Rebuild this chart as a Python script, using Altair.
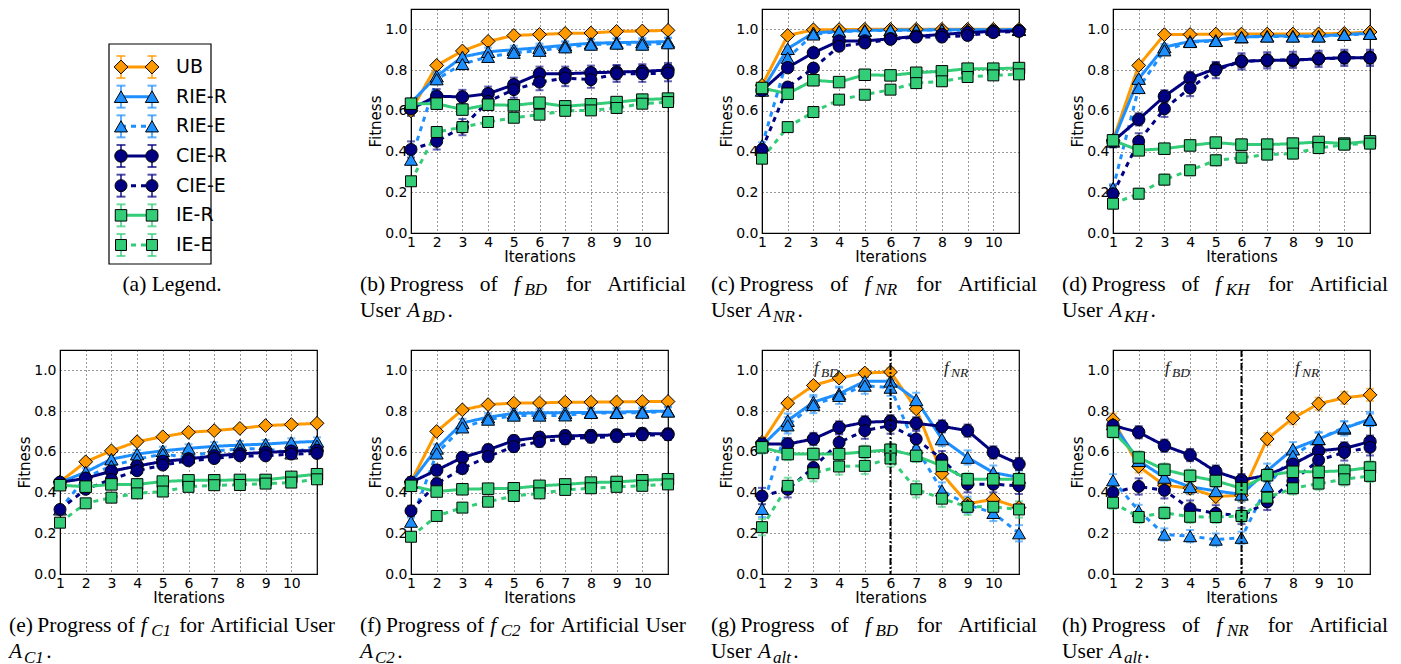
import altair as alt
import pandas as pd

# ---------------- data ----------------
SERIES = ["UB", "RIE-R", "RIE-E", "CIE-R", "CIE-E", "IE-R", "IE-E"]
ITERATIONS = [1, 2, 3, 4, 5, 6, 7, 8, 9, 10, 11]
X_TICKS = [1, 2, 3, 4, 5, 6, 7, 8, 9, 10]
Y_TICKS = [0.0, 0.2, 0.4, 0.6, 0.8, 1.0]
COLORS = ["#ff9900", "#1e8fff", "#1e8fff", "#000080", "#000080", "#33cc77", "#33cc77"]
SHAPES = ["diamond", "triangle-up", "triangle-up", "circle", "circle", "square", "square"]
DASHES = [[1, 0], [1, 0], [7, 4], [1, 0], [7, 4], [1, 0], [7, 4]]
SIZES = [100, 72, 72, 68, 68, 55, 55]
LEG_SIZES = [190, 120, 120, 120, 120, 90, 90]

# (b) f_BD, A_BD
B_VALUES = {
    "UB":    [0.600, 0.823, 0.894, 0.941, 0.970, 0.975, 0.980, 0.982, 0.990, 0.992, 0.995],
    "RIE-R": [0.640, 0.770, 0.865, 0.890, 0.900, 0.910, 0.922, 0.932, 0.935, 0.937, 0.940],
    "RIE-E": [0.360, 0.755, 0.830, 0.865, 0.885, 0.895, 0.912, 0.925, 0.930, 0.925, 0.932],
    "CIE-R": [0.610, 0.672, 0.668, 0.684, 0.728, 0.782, 0.782, 0.787, 0.790, 0.794, 0.800],
    "CIE-E": [0.410, 0.450, 0.520, 0.646, 0.704, 0.741, 0.761, 0.753, 0.782, 0.782, 0.785],
    "IE-R":  [0.635, 0.635, 0.606, 0.630, 0.627, 0.640, 0.622, 0.632, 0.643, 0.655, 0.660],
    "IE-E":  [0.254, 0.496, 0.520, 0.545, 0.566, 0.581, 0.600, 0.602, 0.614, 0.635, 0.643],
}
B_ERR = {"UB": 0.01, "RIE-R": 0.02, "RIE-E": 0.025, "CIE-R": 0.035, "CIE-E": 0.04, "IE-R": 0.02, "IE-E": 0.02}

# (c) f_NR, A_NR
C_VALUES = {
    "UB":    [0.725, 0.970, 0.998, 0.999, 1.000, 1.000, 1.000, 1.000, 1.000, 1.000, 1.000],
    "RIE-R": [0.700, 0.905, 0.983, 0.990, 0.995, 0.997, 0.997, 0.998, 0.998, 0.998, 0.998],
    "RIE-E": [0.430, 0.860, 0.975, 0.990, 0.993, 0.996, 0.996, 0.997, 0.997, 0.997, 0.998],
    "CIE-R": [0.700, 0.812, 0.885, 0.943, 0.943, 0.954, 0.966, 0.975, 0.984, 0.990, 0.993],
    "CIE-E": [0.410, 0.717, 0.810, 0.917, 0.933, 0.951, 0.962, 0.962, 0.970, 0.984, 0.990],
    "IE-R":  [0.712, 0.684, 0.750, 0.741, 0.777, 0.774, 0.787, 0.794, 0.807, 0.807, 0.810],
    "IE-E":  [0.365, 0.520, 0.594, 0.655, 0.679, 0.704, 0.736, 0.745, 0.766, 0.774, 0.779],
}
C_ERR = {"UB": 0.005, "RIE-R": 0.01, "RIE-E": 0.015, "CIE-R": 0.015, "CIE-E": 0.02, "IE-R": 0.02, "IE-E": 0.02}

# (d) f_KH, A_KH
D_VALUES = {
    "UB":    [0.455, 0.823, 0.974, 0.975, 0.977, 0.977, 0.977, 0.977, 0.978, 0.980, 0.987],
    "RIE-R": [0.450, 0.758, 0.913, 0.941, 0.946, 0.962, 0.967, 0.967, 0.967, 0.975, 0.980],
    "RIE-E": [0.220, 0.712, 0.897, 0.938, 0.943, 0.962, 0.965, 0.965, 0.965, 0.973, 0.978],
    "CIE-R": [0.450, 0.558, 0.671, 0.761, 0.807, 0.843, 0.848, 0.848, 0.856, 0.861, 0.861],
    "CIE-E": [0.193, 0.450, 0.610, 0.712, 0.800, 0.843, 0.848, 0.850, 0.855, 0.860, 0.860],
    "IE-R":  [0.455, 0.406, 0.414, 0.430, 0.444, 0.434, 0.434, 0.439, 0.447, 0.439, 0.450],
    "IE-E":  [0.144, 0.193, 0.262, 0.308, 0.357, 0.370, 0.385, 0.390, 0.417, 0.434, 0.439],
}
D_ERR = {"UB": 0.01, "RIE-R": 0.015, "RIE-E": 0.02, "CIE-R": 0.03, "CIE-E": 0.04, "IE-R": 0.025, "IE-E": 0.025}

# (e) f_C1, A_C1
E_VALUES = {
    "UB":    [0.452, 0.551, 0.605, 0.650, 0.674, 0.696, 0.704, 0.715, 0.729, 0.734, 0.740],
    "RIE-R": [0.450, 0.500, 0.564, 0.589, 0.605, 0.617, 0.627, 0.633, 0.638, 0.646, 0.651],
    "RIE-E": [0.317, 0.474, 0.531, 0.564, 0.589, 0.572, 0.605, 0.613, 0.617, 0.592, 0.630],
    "CIE-R": [0.450, 0.470, 0.505, 0.530, 0.553, 0.565, 0.580, 0.590, 0.597, 0.603, 0.607],
    "CIE-E": [0.317, 0.416, 0.465, 0.507, 0.535, 0.556, 0.567, 0.580, 0.580, 0.589, 0.592],
    "IE-R":  [0.436, 0.429, 0.440, 0.440, 0.454, 0.460, 0.460, 0.462, 0.462, 0.477, 0.490],
    "IE-E":  [0.252, 0.347, 0.375, 0.396, 0.405, 0.428, 0.436, 0.437, 0.444, 0.449, 0.465],
}
E_ERR = {"UB": 0.01, "RIE-R": 0.02, "RIE-E": 0.02, "CIE-R": 0.015, "CIE-E": 0.015, "IE-R": 0.02, "IE-E": 0.015}

# (f) f_C2, A_C2
F_VALUES = {
    "UB":    [0.452, 0.700, 0.806, 0.832, 0.839, 0.840, 0.844, 0.844, 0.845, 0.847, 0.847],
    "RIE-R": [0.450, 0.617, 0.742, 0.770, 0.789, 0.791, 0.792, 0.794, 0.795, 0.798, 0.800],
    "RIE-E": [0.257, 0.592, 0.720, 0.758, 0.778, 0.778, 0.779, 0.791, 0.791, 0.792, 0.798],
    "CIE-R": [0.450, 0.510, 0.572, 0.610, 0.655, 0.671, 0.679, 0.680, 0.683, 0.690, 0.688],
    "CIE-E": [0.310, 0.444, 0.518, 0.577, 0.625, 0.650, 0.663, 0.671, 0.674, 0.683, 0.683],
    "IE-R":  [0.433, 0.405, 0.416, 0.419, 0.421, 0.433, 0.440, 0.449, 0.452, 0.460, 0.465],
    "IE-E":  [0.183, 0.285, 0.326, 0.355, 0.383, 0.396, 0.413, 0.421, 0.428, 0.433, 0.440],
}
F_ERR = {"UB": 0.01, "RIE-R": 0.02, "RIE-E": 0.02, "CIE-R": 0.025, "CIE-E": 0.025, "IE-R": 0.02, "IE-E": 0.015}

# (g) f_BD, A_alt
G_VALUES = {
    "UB":    [0.646, 0.839, 0.926, 0.962, 0.987, 0.992, 0.811, 0.493, 0.345, 0.367, 0.326],
    "RIE-R": [0.630, 0.753, 0.844, 0.885, 0.946, 0.946, 0.855, 0.663, 0.572, 0.498, 0.474],
    "RIE-E": [0.320, 0.730, 0.830, 0.875, 0.925, 0.915, 0.620, 0.410, 0.340, 0.300, 0.200],
    "CIE-R": [0.638, 0.638, 0.663, 0.720, 0.745, 0.750, 0.740, 0.725, 0.704, 0.597, 0.540],
    "CIE-E": [0.383, 0.416, 0.523, 0.646, 0.704, 0.729, 0.663, 0.564, 0.441, 0.441, 0.433],
    "IE-R":  [0.622, 0.589, 0.589, 0.589, 0.600, 0.610, 0.580, 0.531, 0.465, 0.465, 0.465],
    "IE-E":  [0.230, 0.433, 0.495, 0.528, 0.531, 0.567, 0.416, 0.370, 0.330, 0.330, 0.317],
}
G_ERR = {"UB": 0.02, "RIE-R": 0.035, "RIE-E": 0.04, "CIE-R": 0.03, "CIE-E": 0.04, "IE-R": 0.03, "IE-E": 0.04}

# (h) f_NR, A_alt
H_VALUES = {
    "UB":    [0.758, 0.528, 0.436, 0.421, 0.380, 0.387, 0.663, 0.765, 0.836, 0.865, 0.880],
    "RIE-R": [0.737, 0.556, 0.474, 0.428, 0.408, 0.391, 0.507, 0.613, 0.663, 0.715, 0.761],
    "RIE-E": [0.460, 0.310, 0.194, 0.186, 0.169, 0.178, 0.433, 0.580, 0.663, 0.720, 0.757],
    "CIE-R": [0.729, 0.696, 0.630, 0.584, 0.503, 0.461, 0.485, 0.539, 0.605, 0.617, 0.650],
    "CIE-E": [0.400, 0.430, 0.411, 0.321, 0.298, 0.285, 0.354, 0.457, 0.559, 0.597, 0.622],
    "IE-R":  [0.699, 0.572, 0.512, 0.482, 0.457, 0.421, 0.485, 0.502, 0.502, 0.507, 0.523],
    "IE-E":  [0.350, 0.280, 0.300, 0.281, 0.280, 0.285, 0.375, 0.421, 0.444, 0.465, 0.482],
}
H_ERR = {"UB": 0.03, "RIE-R": 0.035, "RIE-E": 0.03, "CIE-R": 0.03, "CIE-E": 0.04, "IE-R": 0.03, "IE-E": 0.03}

# captions: (label, fitness subscript, user subscript, "User" on first line)
CAPTIONS = {
    "b": ("b", "BD", "BD", False),
    "c": ("c", "NR", "NR", False),
    "d": ("d", "KH", "KH", False),
    "e": ("e", "C1", "C1", True),
    "f": ("f", "C2", "C2", True),
    "g": ("g", "BD", "alt", False),
    "h": ("h", "NR", "alt", False),
}
ANNOT_TEXT = [("BD", 3.02), ("NR", 8.08)]
SWITCH_AT = 6

# ---------------- layout ----------------
PANEL_W = 257
PANEL_H = 224
COL_GAP = 94
ROW_GAP = 117

CAP_FONT = 21.5
CAP_SUB_FONT = 17
CAP_LEFT = -51
CAP_WIDTH = 326
CAP_LINE1 = PANEL_H + 57.5
CAP_LINE2 = PANEL_H + 84
SUB_DROP = 4.5

TIMES_W = {" ": 250, "(": 333, ")": 333, ".": 250, "A": 722, "L": 611, "P": 556, "U": 722,
           "a": 444, "b": 500, "c": 444, "d": 500, "e": 444, "f": 333, "g": 500, "h": 500,
           "i": 278, "l": 278, "n": 500, "o": 500, "r": 333, "s": 389, "t": 278, "u": 500}
TIMES_IT_W = {"A": 611, "B": 611, "C": 667, "D": 722, "H": 722, "K": 667, "N": 667, "R": 611,
              "a": 500, "l": 278, "t": 278, "f": 278, "1": 500, "2": 500}
IT_ADV = {"f": 10.5, "A": 15.0}
SUB_SPACING = 1.12


def part_width(text, kind):
    if kind == "rm":
        return sum(TIMES_W[c] for c in text) * CAP_FONT / 1000.0
    if kind == "it":
        return sum(IT_ADV[c] for c in text)
    return sum(TIMES_IT_W[c] for c in text) * CAP_SUB_FONT / 1000.0 * SUB_SPACING


def caption_tokens(spec):
    label, fsub, asub, user_first = spec
    l1 = [[("(%s)" % label, "rm")], [("Progress", "rm")], [("of", "rm")],
          [("f", "it"), (fsub, "sub")], [("for", "rm")], [("Artificial", "rm")]]
    ending = [("A", "it"), (asub, "sub"), (".", "rm")]
    if user_first:
        l1.append([("User", "rm")])
        l2 = [ending]
    else:
        l2 = [[("User", "rm")], ending]
    toks = []
    for li, words in enumerate([l1, l2]):
        y = CAP_LINE1 if li == 0 else CAP_LINE2
        widths = [sum(part_width(t, k) for t, k in w) for w in words]
        if li == 0:
            g = (CAP_WIDTH - sum(widths) - 4.5) / (len(words) - 2)
            gaps = [4.5] + [g] * (len(words) - 2)
        else:
            gaps = [6.5] * (len(words) - 1)
        x = CAP_LEFT
        for wi, w in enumerate(words):
            for t, k in w:
                toks.append({"px": x, "py": y + (SUB_DROP if k == "sub" else 0), "t": t, "k": k})
                x += part_width(t, k)
            if wi < len(gaps):
                x += gaps[wi]
    return pd.DataFrame(toks)


def caption_layers(df):
    styles = {"rm": (CAP_FONT, "normal"), "it": (CAP_FONT, "italic"), "sub": (CAP_SUB_FONT, "italic")}
    layers = []
    for k, (size, style) in styles.items():
        part = df[df["k"] == k]
        if part.empty:
            continue
        layers.append(
            alt.Chart(part).mark_text(align="left", baseline="alphabetic", font="Liberation Serif",
                                      fontSize=size, fontStyle=style, color="black")
            .encode(x=alt.X("px:Q", scale=None), y=alt.Y("py:Q", scale=None), text="t:N")
        )
    return layers


XS = alt.Scale(domain=[1, 11], nice=False, zero=False)
YS = alt.Scale(domain=[0, 1.1], nice=False)
XAX = alt.Axis(values=X_TICKS, format="d", title="Iterations", labelFlush=False,
               labelPadding=2, titlePadding=0)
YAX = alt.Axis(values=Y_TICKS, format=".1f", title="Fitness", labelFlush=False,
               labelPadding=4, titlePadding=1)
CS = alt.Scale(domain=SERIES, range=COLORS)


def long_df(vals, errs):
    rows = []
    for s in SERIES:
        for it, v in zip(ITERATIONS, vals[s]):
            rows.append({"it": it, "v": v, "s": s, "lo": v - errs[s], "hi": v + errs[s]})
    return pd.DataFrame(rows)


def data_panel(vals, errs, cap_key, annotate=False):
    df = long_df(vals, errs)
    base = alt.Chart(df)
    X = alt.X("it:Q", scale=XS, axis=XAX)
    color = alt.Color("s:N", scale=CS, legend=None)
    lines = base.mark_line(strokeWidth=3).encode(
        x=X, y=alt.Y("v:Q", scale=YS, axis=YAX), color=color,
        strokeDash=alt.StrokeDash("s:N", scale=alt.Scale(domain=SERIES, range=DASHES), legend=None),
    )
    bars = base.mark_rule(strokeWidth=2, opacity=0.6).encode(
        x=X, y=alt.Y("lo:Q", scale=YS, axis=YAX), y2="hi:Q", color=color)
    caps = base.transform_fold(["lo", "hi"], as_=["kk", "cv"]).mark_tick(
        orient="horizontal", size=8, thickness=2, opacity=0.6).encode(
        x=X, y=alt.Y("cv:Q", scale=YS, axis=YAX), color=color)
    pts = base.mark_point(filled=True, stroke="black", strokeWidth=1, opacity=1).encode(
        x=X, y=alt.Y("v:Q", scale=YS, axis=YAX),
        fill=alt.Fill("s:N", scale=CS, legend=None),
        shape=alt.Shape("s:N", scale=alt.Scale(domain=SERIES, range=SHAPES), legend=None),
        size=alt.Size("s:N", scale=alt.Scale(domain=SERIES, range=SIZES), legend=None),
    )
    layers = [lines, bars, caps, pts]
    if annotate:
        layers.append(
            alt.Chart(pd.DataFrame({"it": [SWITCH_AT]})).mark_rule(
                color="black", strokeWidth=2, strokeDash=[7, 2, 2, 2]).encode(x=X)
        )
        px_x = PANEL_W / 10.0
        px_y = PANEL_H / 1.1
        f_rows, s_rows = [], []
        for sub, x0 in ANNOT_TEXT:
            f_rows.append({"it": x0, "v": 0.985, "t": "f"})
            s_rows.append({"it": x0 + 7.0 / px_x, "v": 0.985 - 4.0 / px_y, "t": sub})
        layers.append(alt.Chart(pd.DataFrame(f_rows)).mark_text(
            align="left", baseline="alphabetic", font="Liberation Serif", fontSize=17,
            fontStyle="italic", color="#222222").encode(
            x=X, y=alt.Y("v:Q", scale=YS, axis=YAX), text="t:N"))
        layers.append(alt.Chart(pd.DataFrame(s_rows)).mark_text(
            align="left", baseline="alphabetic", font="Liberation Serif", fontSize=13.5,
            fontStyle="italic", color="#222222").encode(
            x=X, y=alt.Y("v:Q", scale=YS, axis=YAX), text="t:N"))
    layers += caption_layers(caption_tokens(CAPTIONS[cap_key]))
    return alt.layer(*layers).properties(width=PANEL_W, height=PANEL_H)


def legend_panel():
    rows = []
    for i, s in enumerate(SERIES):
        for lx in (0, 1):
            rows.append({"s": s, "li": i, "lx": lx})
    ldf = pd.DataFrame(rows)
    LX = alt.X("lx:Q", scale=alt.Scale(domain=[0, 1], range=[61, 92]), axis=None)
    LY = alt.Y("li:Q", scale=alt.Scale(domain=[0, 6], range=[58, 236]), axis=None)
    color = alt.Color("s:N", scale=CS, legend=None)
    box = alt.Chart(pd.DataFrame({"z": [0]})).mark_rect(
        fill="white", stroke="black", strokeWidth=1.2).encode(
        x=alt.value(49), x2=alt.value(151), y=alt.value(35), y2=alt.value(255))
    base = alt.Chart(ldf)
    line = base.mark_line(strokeWidth=3).encode(
        x=LX, y=LY, color=color, detail="s:N",
        strokeDash=alt.StrokeDash("s:N", scale=alt.Scale(domain=SERIES, range=[[1, 0], [1, 0], [5, 5], [1, 0], [5, 5], [1, 0], [5, 5]]), legend=None))
    bar = base.mark_tick(orient="vertical", size=22, thickness=2, opacity=0.7).encode(x=LX, y=LY, color=color)
    cap_top = base.mark_tick(orient="horizontal", size=9, thickness=2, opacity=0.7, yOffset=-11).encode(x=LX, y=LY, color=color)
    cap_bot = base.mark_tick(orient="horizontal", size=9, thickness=2, opacity=0.7, yOffset=11).encode(x=LX, y=LY, color=color)
    pts = base.mark_point(filled=True, stroke="black", strokeWidth=1, opacity=1).encode(
        x=LX, y=LY, fill=alt.Fill("s:N", scale=CS, legend=None),
        shape=alt.Shape("s:N", scale=alt.Scale(domain=SERIES, range=SHAPES), legend=None),
        size=alt.Size("s:N", scale=alt.Scale(domain=SERIES, range=LEG_SIZES), legend=None))
    labels = alt.Chart(ldf[ldf["lx"] == 1]).mark_text(
        align="left", baseline="middle", dx=24, font="DejaVu Sans", fontSize=19, color="black").encode(
        x=LX, y=LY, text="s:N")
    cap = alt.Chart(pd.DataFrame({"z": [0]})).mark_text(
        align="center", baseline="alphabetic", font="Liberation Serif", fontSize=CAP_FONT, color="black").encode(
        x=alt.value(112), y=alt.value(CAP_LINE1), text=alt.value("(a)  Legend."))
    return alt.layer(box, line, bar, cap_top, cap_bot, pts, labels, cap).properties(
        width=PANEL_W, height=PANEL_H, view=alt.ViewBackground(stroke="transparent"))


row1 = alt.hconcat(legend_panel(),
                   data_panel(B_VALUES, B_ERR, "b"),
                   data_panel(C_VALUES, C_ERR, "c"),
                   data_panel(D_VALUES, D_ERR, "d"),
                   spacing=COL_GAP, bounds="flush")
row2 = alt.hconcat(data_panel(E_VALUES, E_ERR, "e"),
                   data_panel(F_VALUES, F_ERR, "f"),
                   data_panel(G_VALUES, G_ERR, "g", annotate=True),
                   data_panel(H_VALUES, H_ERR, "h", annotate=True),
                   spacing=COL_GAP, bounds="flush")

# nested concat rows count as zero height under "flush", so the row stride is the spacing
chart = alt.vconcat(row1, row2, spacing=PANEL_H + ROW_GAP, bounds="flush").properties(
    padding={"left": 0, "top": 0, "right": 0, "bottom": 0}, background="white"
).configure_axis(
    labelFont="DejaVu Sans", labelFontSize=14, labelColor="black",
    titleFont="DejaVu Sans", titleFontSize=15, titleFontWeight="normal", titleColor="black",
    domainColor="black", domainWidth=1, ticks=False,
    grid=True, gridColor="black", gridDash=[1, 3], gridOpacity=0.8, gridWidth=1,
).configure_view(stroke="black", strokeWidth=1.2)

chart.save("out.html", embed_options={"renderer": "svg", "actions": False})
